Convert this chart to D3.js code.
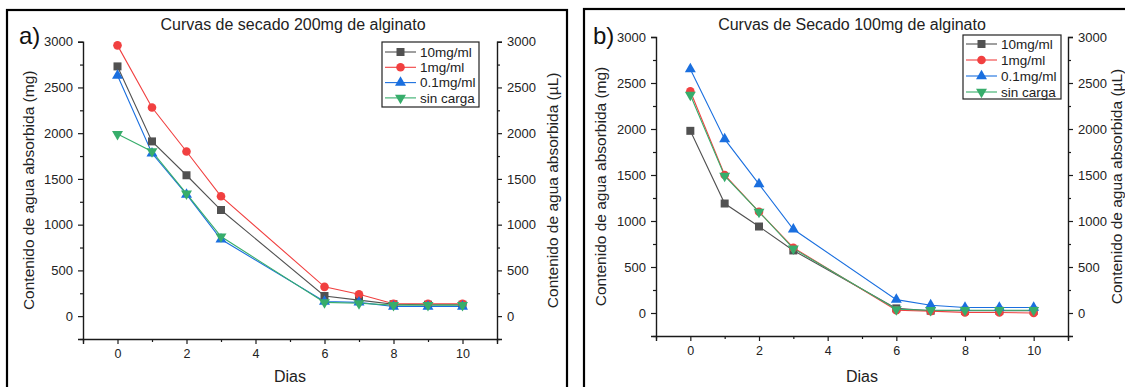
<!DOCTYPE html>
<html>
<head>
<meta charset="utf-8">
<script src="https://cdn.jsdelivr.net/npm/d3@7"></script>
<style>
  html, body { margin: 0; padding: 0; background: #fff; }
  svg { display: block; font-family: Arial, "Liberation Sans", sans-serif; }
</style>
</head>
<body>
<svg id="chart" width="1125" height="387"></svg>
<script>
// Drying days (x values shared by every series)
const dias = [0, 1, 2, 3, 6, 7, 8, 9, 10];
const seriesNames = ["10mg/ml", "1mg/ml", "0.1mg/ml", "sin carga"];
const seriesColors = ["#515151", "#F14040", "#1A6FDF", "#37AD6B"];
const seriesSymbols = ["square", "circle", "triangleUp", "triangleDown"];

// 200 mg alginate beads: absorbed water content (mg)
const a_10mg = [2730, 1910, 1540, 1160, 220, 175, 130, 125, 125];
const a_1mg = [2960, 2280, 1800, 1310, 320, 240, 135, 135, 135];
const a_01mg = [2630, 1780, 1330, 840, 160, 150, 105, 105, 105];
const a_sin = [1990, 1800, 1340, 870, 150, 140, 120, 120, 120];

// 100 mg alginate beads: absorbed water content (mg)
const b_10mg = [1980, 1190, 940, 680, 50, 25, 25, 25, 25];
const b_1mg = [2410, 1500, 1100, 710, 30, 20, 5, 5, 0];
const b_01mg = [2650, 1890, 1400, 910, 145, 85, 60, 60, 60];
const b_sin = [2370, 1490, 1100, 700, 40, 30, 30, 30, 30];

// Axis ticks
const xTicks = [0, 2, 4, 6, 8, 10];
const xMinor = [-1, 1, 3, 5, 7, 9, 11];
const yTicks = [0, 500, 1000, 1500, 2000, 2500, 3000];
const yMinor = [-250, 250, 750, 1250, 1750, 2250, 2750];
const xDomain = [-1, 11];
const yDomain = [-250, 3000];

const svg = d3.select("#chart");
const ink = "#1a1a1a";

function symbolPath(kind) {
  if (kind === "square") return d3.symbol(d3.symbolSquare, 64)();
  if (kind === "circle") return d3.symbol(d3.symbolCircle, 58)();
  const tri = d3.symbol(d3.symbolTriangle, 52)();
  return tri;
}

function drawPanel(p) {
  const g = svg.append("g");

  // panel frame
  g.append("rect")
    .attr("x", p.frame[0]).attr("y", p.frame[1])
    .attr("width", p.frame[2]).attr("height", p.frame[3])
    .attr("fill", "none").attr("stroke", "#000").attr("stroke-width", 2.2);

  const x = d3.scaleLinear().domain(xDomain).range([p.left, p.right]);
  const y = d3.scaleLinear().domain(yDomain).range([p.bottom, p.top]);

  // bottom axis
  const gx = g.append("g").attr("transform", `translate(0,${p.bottom})`)
    .call(d3.axisBottom(x).tickValues(xTicks).tickSize(5).tickPadding(5).tickFormat(d3.format("d")));
  g.append("g").attr("transform", `translate(0,${p.bottom})`)
    .call(d3.axisBottom(x).tickValues(xMinor).tickSize(3).tickFormat(""))
    .select(".domain").remove();

  // left axis
  const gy = g.append("g").attr("transform", `translate(${p.left},0)`)
    .call(d3.axisLeft(y).tickValues(yTicks).tickSize(5).tickPadding(5).tickFormat(d3.format("d")));
  g.append("g").attr("transform", `translate(${p.left},0)`)
    .call(d3.axisLeft(y).tickValues(yMinor).tickSize(3).tickFormat(""))
    .select(".domain").remove();

  // right axis (same scale, volume units)
  const gr = g.append("g").attr("transform", `translate(${p.right},0)`)
    .call(d3.axisRight(y).tickValues(yTicks).tickSize(5).tickPadding(5).tickFormat(d3.format("d")));
  g.append("g").attr("transform", `translate(${p.right},0)`)
    .call(d3.axisRight(y).tickValues(yMinor).tickSize(3).tickFormat(""))
    .select(".domain").remove();

  [gx, gy, gr].forEach(a => {
    a.select(".domain").attr("stroke", ink).attr("stroke-width", 1.4);
    a.selectAll(".tick line").attr("stroke", ink).attr("stroke-width", 1.2);
    a.selectAll(".tick text").attr("fill", "#222").style("font-size", "13px");
  });
  svg.selectAll(".tick line").attr("stroke", ink).attr("stroke-width", 1.2);
  svg.selectAll(".domain").attr("stroke", ink).attr("stroke-width", 1.4);
  gx.selectAll(".tick text").style("font-size", "12.5px");

  // series
  p.series.forEach((vals, i) => {
    const pts = dias.map((d, k) => [d, vals[k]]);
    g.append("path")
      .attr("d", d3.line().x(d => x(d[0])).y(d => y(d[1]))(pts))
      .attr("fill", "none").attr("stroke", seriesColors[i]).attr("stroke-width", 1.1);
  });
  p.series.forEach((vals, i) => {
    const pts = dias.map((d, k) => [d, vals[k]]);
    const rot = seriesSymbols[i] === "triangleDown" ? " rotate(180)" : "";
    g.selectAll(null).data(pts).join("path")
      .attr("d", symbolPath(seriesSymbols[i]))
      .attr("transform", d => `translate(${x(d[0])},${y(d[1])})${rot}`)
      .attr("fill", seriesColors[i]);
  });

  // titles
  g.append("text").attr("x", p.titleX).attr("y", 30)
    .attr("text-anchor", "middle").style("font-size", "16px").attr("fill", "#222")
    .text(p.title);
  g.append("text").attr("x", p.tagX).attr("y", 44)
    .style("font-size", "24px").attr("fill", "#111").text(p.tag);
  g.append("text").attr("x", (p.left + p.right) / 2).attr("y", 382)
    .attr("text-anchor", "middle").style("font-size", "16px").attr("fill", "#222").text("Dias");
  const midY = (p.top + p.bottom) / 2;
  g.append("text")
    .attr("transform", `translate(${p.yTitleL},${midY}) rotate(-90)`)
    .attr("text-anchor", "middle").attr("dy", "0.35em")
    .style("font-size", "15.5px").attr("fill", "#222")
    .text("Contenido de agua absorbida (mg)");
  g.append("text")
    .attr("transform", `translate(${p.yTitleR},${midY}) rotate(-90)`)
    .attr("text-anchor", "middle").attr("dy", "0.35em")
    .style("font-size", "15.5px").attr("fill", "#222")
    .text("Contenido de agua absorbida (µL)");

  // legend
  const L = p.legend;
  const lg = g.append("g").attr("transform", `translate(${L.x},${L.y})`);
  lg.append("rect").attr("width", L.w).attr("height", L.h)
    .attr("fill", "#fff").attr("stroke", "#222").attr("stroke-width", 1.2);
  seriesNames.forEach((name, i) => {
    const cy = L.first + i * L.step;
    lg.append("line").attr("x1", 3).attr("x2", 34).attr("y1", cy).attr("y2", cy)
      .attr("stroke", seriesColors[i]).attr("stroke-width", 1.1);
    const rot = seriesSymbols[i] === "triangleDown" ? " rotate(180)" : "";
    lg.append("path").attr("d", symbolPath(seriesSymbols[i]))
      .attr("transform", `translate(18.5,${cy})${rot}`).attr("fill", seriesColors[i]);
    lg.append("text").attr("x", 38).attr("y", cy).attr("dy", "0.36em")
      .style("font-size", "13.5px").attr("fill", "#222").text(name);
  });
}

drawPanel({
  frame: [7, 10, 560, 400],
  left: 83, right: 497, top: 41.7, bottom: 339,
  title: "Curvas de secado 200mg de alginato", titleX: 293,
  tag: "a)", tagX: 19,
  yTitleL: 29, yTitleR: 553,
  legend: { x: 382, y: 42, w: 97, h: 65, first: 10, step: 15.3 },
  series: [a_10mg, a_1mg, a_01mg, a_sin]
});

drawPanel({
  frame: [584, 9, 600, 400],
  left: 656, right: 1068, top: 37, bottom: 336,
  title: "Curvas de Secado 100mg de alginato", titleX: 852,
  tag: "b)", tagX: 593,
  yTitleL: 601, yTitleR: 1117,
  legend: { x: 963, y: 35, w: 98, h: 64, first: 9, step: 16 },
  series: [b_10mg, b_1mg, b_01mg, b_sin]
});
</script>
</body>
</html>
